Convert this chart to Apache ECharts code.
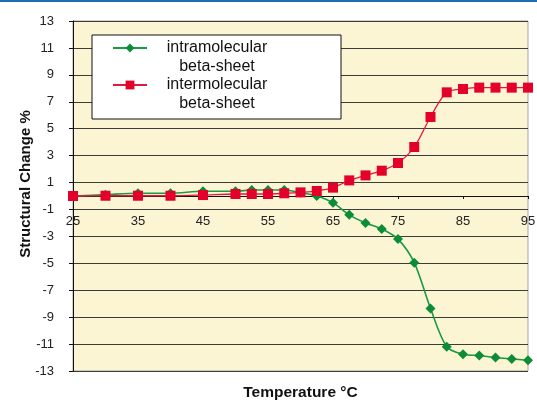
<!DOCTYPE html>
<html>
<head>
<meta charset="utf-8">
<title>Structural change vs temperature</title>
<script src="https://cdn.jsdelivr.net/npm/echarts@6/dist/echarts.min.js"></script>
<style>
  html, body { margin: 0; padding: 0; background: #fff; }
  #chart { width: 537px; height: 400px; }
</style>
</head>
<body>
<div id="chart"></div>
<script>
// temperatures (°C) measured
const temps = [25, 30, 35, 40, 45, 50, 52.5, 55, 57.5, 60, 62.5, 65, 67.5, 70, 72.5, 75, 77.5, 80, 82.5, 85, 87.5, 90, 92.5, 95]
// structural change %
const intraValues = [0, 0.1, 0.2, 0.2, 0.35, 0.35, 0.45, 0.45, 0.45, 0.25, 0, -0.5, -1.4, -2.0, -2.45, -3.2, -4.95, -8.35, -11.2, -11.75, -11.85, -12.0, -12.1, -12.2]
const interValues = [0, 0.02, 0.02, 0.02, 0.07, 0.15, 0.15, 0.15, 0.2, 0.27, 0.37, 0.62, 1.16, 1.53, 1.88, 2.45, 3.64, 5.87, 7.7, 7.95, 8.05, 8.05, 8.05, 8.05]
const seriesNames = ['intramolecular beta-sheet', 'intermolecular beta-sheet']
const legendLines = {
  'intramolecular beta-sheet': ['intramolecular', 'beta-sheet'],
  'intermolecular beta-sheet': ['intermolecular', 'beta-sheet']
}

const FONT = '"Liberation Sans", Arial, sans-serif'

const pairs = (vals) => temps.map((t, i) => [t, vals[i]])

const chart = echarts.init(document.getElementById('chart'), null, {renderer: 'canvas'})

// plot is 350px tall, y = 0 sits half way => move the x axis up to it
const X_AXIS_LIFT = -175

chart.setOption({
  animation: false,
  textStyle: {fontFamily: FONT},
  graphic: [
    // blue rule along the top of the page
    {type: 'rect', left: 0, top: 0, shape: {width: 537, height: 2}, style: {fill: '#1f6db6'}}
  ],
  grid: {
    left: 73,
    right: 9,
    top: 21,
    bottom: 29,
    show: true,
    backgroundColor: '#fbf5d3',
    borderColor: '#a3a3a3',
    borderWidth: 1,
    outerBoundsMode: 'none'
  },
  legend: {
    orient: 'vertical',
    left: 92,
    top: 35,
    data: seriesNames,
    itemWidth: 34,
    itemHeight: 11,
    itemGap: 2,
    padding: [5, 59, 7, 20],
    backgroundColor: '#fff',
    borderColor: '#111',
    borderWidth: 1,
    formatter: (name) => legendLines[name].map(s => '{t|' + s + '}').join('\n'),
    textStyle: {
      color: '#111',
      fontSize: 16,
      fontFamily: FONT,
      padding: [0, 0, -19, 0],
      rich: {
        t: {width: 130, align: 'center', lineHeight: 19, fontSize: 16, fontFamily: FONT, color: '#111'}
      }
    }
  },
  xAxis: {
    type: 'value',
    position: 'bottom',
    offset: X_AXIS_LIFT,
    min: 25,
    max: 95,
    interval: 10,
    name: 'Temperature °C',
    nameLocation: 'middle',
    nameGap: 189,
    nameMoveOverlap: false,
    nameTextStyle: {fontSize: 15.5, fontWeight: 'bold', color: '#111', fontFamily: FONT},
    axisLine: {onZero: false, lineStyle: {color: '#111', width: 1}},
    axisTick: {show: true, length: 3, lineStyle: {color: '#111'}},
    axisLabel: {margin: 19, fontSize: 13, color: '#222', fontFamily: FONT},
    splitLine: {show: false}
  },
  yAxis: {
    type: 'value',
    min: -13,
    max: 13,
    interval: 2,
    name: 'Structural Change %',
    nameLocation: 'middle',
    nameGap: 40,
    nameMoveOverlap: false,
    nameTextStyle: {fontSize: 15, fontWeight: 'bold', color: '#111', fontFamily: FONT, padding: [0, 0, 0, 24]},
    axisLine: {show: true, onZero: false, lineStyle: {color: '#111', width: 1}},
    axisTick: {show: true, length: 4, lineStyle: {color: '#111'}},
    axisLabel: {margin: 19, fontSize: 13, color: '#222', fontFamily: FONT},
    splitLine: {show: true, lineStyle: {color: '#3c3c3c', width: 1}}
  },
  series: [
    {
      name: seriesNames[0],
      type: 'line',
      data: pairs(intraValues),
      smooth: 0.3,
      symbol: 'diamond',
      symbolSize: 10,
      showAllSymbol: true,
      color: '#0d8c37',
      lineStyle: {color: '#1a9a45', width: 1.6},
      itemStyle: {color: '#0d8c37'},
      z: 2
    },
    {
      name: seriesNames[1],
      type: 'line',
      data: pairs(interValues),
      smooth: 0.3,
      symbol: 'rect',
      symbolSize: 10,
      showAllSymbol: true,
      color: '#e3002b',
      lineStyle: {color: '#e3183c', width: 1.3},
      itemStyle: {color: '#e3002b'},
      z: 3
    }
  ]
})
</script>
</body>
</html>
